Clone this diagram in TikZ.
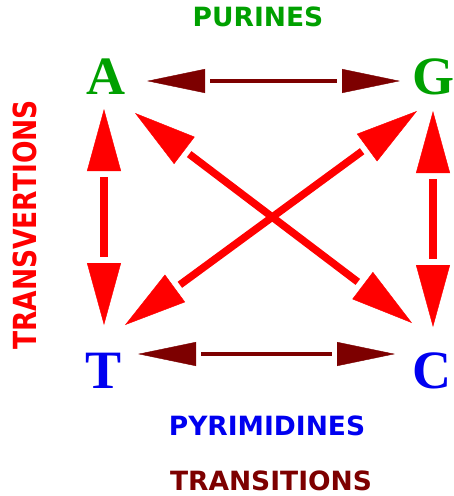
\documentclass[tikz,border=0pt]{standalone}
\usepackage{fontspec}
\setmainfont{Liberation Serif}
\newfontfamily\labelfont{DejaVu Sans}
\usetikzlibrary{arrows.meta}
\definecolor{purgreen}{RGB}{0,160,0}
\definecolor{pyrblue}{RGB}{0,0,240}
\definecolor{darkred}{RGB}{125,0,0}
\definecolor{brightred}{RGB}{255,0,0}
\tikzset{
  base/.style={inner sep=0pt, font=\fontsize{54}{54}\selectfont\bfseries},
  lbl/.style={inner sep=0pt, font=\labelfont\fontsize{26.5}{26.5}\selectfont\bfseries},
  transvline/.style={draw=brightred, line width=7.5pt, shorten <=68pt, shorten >=68pt},
  transvtips/.style={tips, color=brightred, line width=0.4pt,
    {Triangle[length=62pt,width=34pt]}-{Triangle[length=62pt,width=34pt]}},
  transiline/.style={draw=darkred, line width=4pt, shorten <=63pt, shorten >=63pt},
  transitips/.style={tips, color=darkred, line width=0.4pt,
    {Triangle[length=58pt,width=24pt]}-{Triangle[length=58pt,width=24pt]}},
}
\newcommand\biarrow[3]{\draw[#1line] #2 -- #3; \path[#1tips] #2 -- #3;}
\begin{document}
\begin{tikzpicture}[x=1pt,y=-1pt]
\useasboundingbox (0,0) rectangle (454,496);
\node[base, text=purgreen] (A) at (106,77) {A};
\node[base, text=purgreen] (G) at (433,77) {G};
\node[base, text=pyrblue] (T) at (104,371) {T};
\node[base, text=pyrblue] (C) at (432,371) {C};
\node[lbl, text=purgreen] (pur) at (258,17) {PURINES};
\node[lbl, text=pyrblue] (pyr) at (267,426) {PYRIMIDINES};
\node[lbl, text=darkred] (trs) at (271,481) {TRANSITIONS};
\node[lbl, text=brightred, rotate=90] (trv) at (25,225) {\scalebox{1.0}[1.2]{TRANSVERTIONS}};
% transitions
\biarrow{transi}{([shift={(41,4)}]A.center)}{([shift={(-33,4)}]G.center)}
\biarrow{transi}{([shift={(34,-17)}]T.center)}{([shift={(-37,-17)}]C.center)}
% transversions
\biarrow{transv}{([shift={(-2,32)}]A.center)}{([shift={(0,-46)}]T.center)}
\biarrow{transv}{([shift={(0,34)}]G.center)}{([shift={(1,-44)}]C.center)}
\biarrow{transv}{([shift={(29,36)}]A.center)}{([shift={(-20,-48)}]C.center)}
\biarrow{transv}{([shift={(-16,34)}]G.center)}{([shift={(21,-46)}]T.center)}
\end{tikzpicture}
\end{document}
